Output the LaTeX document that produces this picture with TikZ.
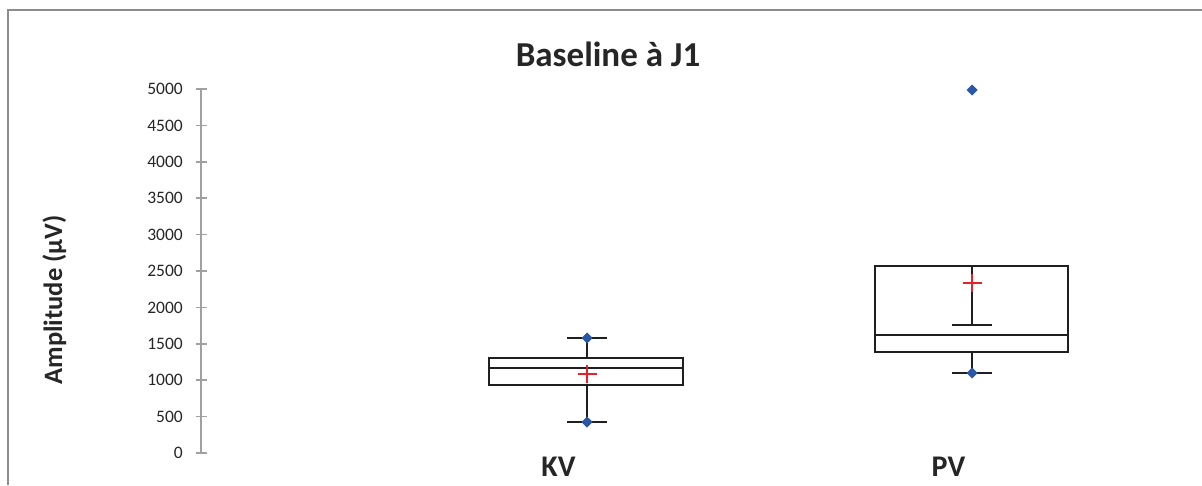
\documentclass[tikz,border=0pt]{standalone}
\usepackage{fontspec}
\setmainfont{Carlito}
\definecolor{framegray}{HTML}{8C8C8C}
\definecolor{axisgray}{HTML}{A0A0A0}
\definecolor{txt}{HTML}{262626}
\definecolor{dotblue}{HTML}{2A56A8}
\definecolor{meanred}{HTML}{E8202A}
\begin{document}
\begin{tikzpicture}[x=1pt,y=-1pt,
  frameline/.style={draw=framegray, line width=1.6pt},
  axisline/.style={draw=axisgray, line width=1.7pt},
  ticklab/.style={anchor=east, inner sep=0pt, text=txt, font=\fontsize{17.5}{17.5}\selectfont},
  boxline/.style={draw=black!88, line width=2.8pt},
  whisk/.style={draw=black!88, line width=2.8pt},
  meanmark/.style={draw=meanred, line width=1.8pt},
  catlab/.style={anchor=base, inner sep=0pt, text=txt, font=\fontsize{30}{30}\selectfont\bfseries},
  pt/.style={fill=dotblue}
]
\useasboundingbox (0,0) rectangle (1202,485);
\fill[white] (0,0) rectangle (1202,485);
% frame
\draw[frameline] (8,485) -- (8,10) -- (1202,10);
% title
\node[anchor=base, inner sep=0pt, text=txt, font=\fontsize{35}{35}\selectfont\bfseries] (title) at (608,66) {Baseline à J1};
% y label
\node[anchor=base, rotate=90, inner sep=0pt, text=txt, font=\fontsize{26.5}{26.5}\selectfont\bfseries] (ylab) at (62,300) {Amplitude (µV)};
% axis
\coordinate (atop) at (201,89);
\coordinate (abot) at (201,453);
\draw[axisline] (atop) -- (abot);
\foreach \i in {0,...,10} {
  \pgfmathsetmacro{\yy}{453-\i*36.4}
  \pgfmathtruncatemacro{\val}{\i*500}
  \coordinate (tk\i) at (201,\yy);
  \draw[axisline] ([xshift=-5pt]tk\i) -- ([xshift=6pt]tk\i);
  \node[ticklab] (tl\i) at (183,\yy) {\val};
}
% KV box
\node[boxline, rectangle, minimum width=194pt, minimum height=27pt, inner sep=0pt] (kvbox) at (586,371.5) {};
\draw[boxline] (kvbox.west |- 0,368) -- (kvbox.east |- 0,368);
\coordinate (kvtop) at (587,338);
\coordinate (kvbot) at (587,422);
\draw[whisk] (kvtop) -- (kvtop |- kvbox.north);
\draw[whisk] (kvbot) -- (kvbot |- kvbox.south);
\draw[whisk] ([xshift=-20pt]kvtop) -- ([xshift=20pt]kvtop);
\draw[whisk] ([xshift=-20pt]kvbot) -- ([xshift=20pt]kvbot);
\fill[pt] (kvtop) ++(0,-5.5) -- ++(5.5,5.5) -- ++(-5.5,5.5) -- ++(-5.5,-5.5) -- cycle;
\fill[pt] (kvbot) ++(0,-5.5) -- ++(5.5,5.5) -- ++(-5.5,5.5) -- ++(-5.5,-5.5) -- cycle;
\coordinate (kvmean) at (587,374);
\draw[meanmark] ([xshift=-9.5pt]kvmean) -- ([xshift=9.5pt]kvmean);
\draw[meanmark] ([yshift=-9pt]kvmean) -- ([yshift=9pt]kvmean);
\node[catlab] (kv) at (558.5,476) {KV};
% PV box
\node[boxline, rectangle, minimum width=193pt, minimum height=86pt, inner sep=0pt] (pvbox) at (971.5,309) {};
\draw[boxline] (pvbox.west |- 0,335) -- (pvbox.east |- 0,335);
\coordinate (pvtop) at (972,325);
\coordinate (pvbot) at (972,373);
\coordinate (pvout) at (972,90);
\draw[whisk] (pvtop) -- (pvtop |- pvbox.north);
\draw[whisk] (pvbot) -- (pvbot |- pvbox.south);
\draw[whisk] ([xshift=-20pt]pvtop) -- ([xshift=20pt]pvtop);
\draw[whisk] ([xshift=-20pt]pvbot) -- ([xshift=20pt]pvbot);
\fill[pt] (pvbot) ++(0,-5.5) -- ++(5.5,5.5) -- ++(-5.5,5.5) -- ++(-5.5,-5.5) -- cycle;
\fill[pt] (pvout) ++(0,-5.5) -- ++(5.5,5.5) -- ++(-5.5,5.5) -- ++(-5.5,-5.5) -- cycle;
\coordinate (pvmean) at (972,283);
\draw[meanmark] ([xshift=-9.5pt]pvmean) -- ([xshift=9.5pt]pvmean);
\draw[meanmark] ([yshift=-9pt]pvmean) -- ([yshift=9pt]pvmean);
\node[catlab] (pv) at (948.5,476) {PV};
\end{tikzpicture}
\end{document}
